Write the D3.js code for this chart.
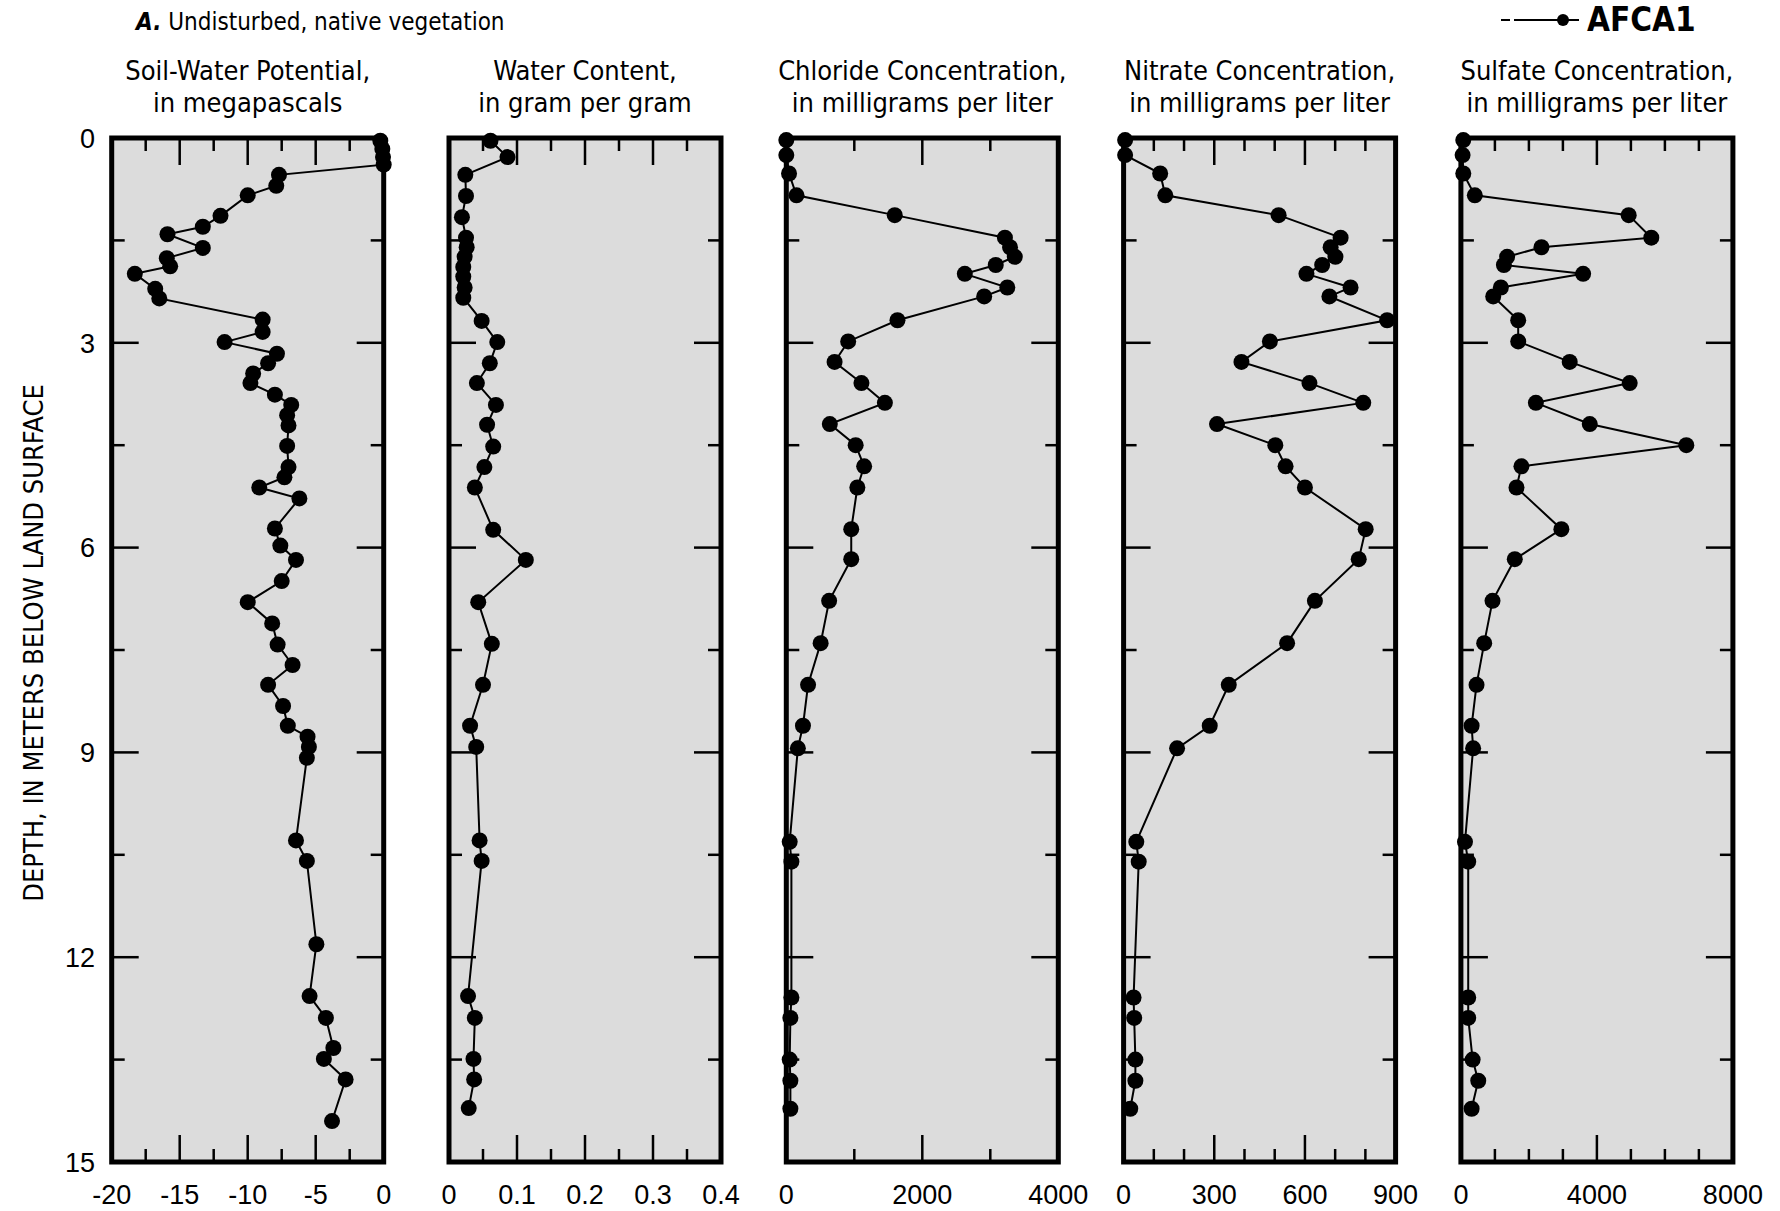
<!DOCTYPE html>
<html>
<head>
<meta charset="utf-8">
<script src="https://d3js.org/d3.v7.min.js"></script>
<style>
  body { margin: 0; background: #fff; }
  .cond { font-family: "Liberation Sans Narrow", "DejaVu Sans Condensed", "Arial Narrow", sans-serif; font-stretch: condensed; }
  .num { font-family: "Liberation Sans", Arial, sans-serif; }
</style>
</head>
<body>
<svg id="chart" width="1780" height="1211"></svg>
<script>
// ---- data ----
var depthTicks = [0, 3, 6, 9, 12, 15];

// soil-water potential, MPa
var swpDepth = [0.04, 0.16, 0.28, 0.39, 0.54, 0.70, 0.84, 1.14, 1.30, 1.41, 1.61, 1.76, 1.88, 1.99,
  2.21, 2.35, 2.66, 2.84, 2.99, 3.16, 3.30, 3.45, 3.59, 3.76, 3.91, 4.06, 4.21, 4.51, 4.82, 4.97,
  5.12, 5.28, 5.72, 5.97, 6.18, 6.49, 6.80, 7.11, 7.42, 7.72, 8.01, 8.32, 8.61, 8.77, 8.92, 9.08,
  10.29, 10.59, 11.81, 12.57, 12.89, 13.33, 13.49, 13.79, 14.40];
var swpValue = [-0.25, -0.1, -0.05, 0, -7.7, -7.9, -10.0, -12.0, -13.3, -15.9, -13.3, -15.95, -15.7, -18.3,
  -16.8, -16.5, -8.9, -8.9, -11.7, -7.85, -8.5, -9.6, -9.8, -8.0, -6.8, -7.1, -7.0, -7.1, -7.0, -7.3,
  -9.15, -6.2, -8.0, -7.6, -6.45, -7.5, -10.0, -8.2, -7.8, -6.7, -8.5, -7.4, -7.05, -5.6, -5.5, -5.65,
  -6.45, -5.65, -4.95, -5.45, -4.25, -3.7, -4.4, -2.8, -3.8];

// water content, g/g
var wcDepth = [0.04, 0.28, 0.54, 0.85, 1.16, 1.46, 1.60, 1.74, 1.89, 2.03, 2.19, 2.34, 2.68, 2.99,
  3.30, 3.59, 3.91, 4.20, 4.52, 4.82, 5.12, 5.74, 6.18, 6.80, 7.41, 8.01, 8.61, 8.92, 10.29, 10.59,
  12.57, 12.89, 13.49, 13.79, 14.21];
var wcValue = [0.061, 0.086, 0.024, 0.025, 0.019, 0.025, 0.026, 0.023, 0.021, 0.021, 0.023, 0.021, 0.048, 0.071,
  0.060, 0.041, 0.069, 0.056, 0.065, 0.052, 0.038, 0.065, 0.113, 0.043, 0.063, 0.050, 0.031, 0.040, 0.045, 0.048,
  0.028, 0.038, 0.036, 0.037, 0.029];

// pore-water chemistry, mg/L
var chemDepth = [0.03, 0.25, 0.52, 0.84, 1.13, 1.46, 1.60, 1.74, 1.86, 1.99, 2.19, 2.32, 2.67, 2.98,
  3.28, 3.59, 3.88, 4.19, 4.50, 4.81, 5.12, 5.73, 6.17, 6.78, 7.40, 8.01, 8.61, 8.94, 10.31, 10.60,
  12.59, 12.89, 13.50, 13.81, 14.22];
var chloride = [0, 0, 40, 150, 1595, 3215, 3290, 3360, 3080, 2625, 3250, 2910, 1635, 910,
  710, 1105, 1450, 640, 1020, 1145, 1045, 955, 955, 630, 505, 320, 245, 170, 50, 75,
  75, 60, 50, 60, 60];
var nitrate = [5, 5, 121, 138, 513, 718, 685, 701, 657, 605, 751, 681, 872, 484,
  390, 615, 793, 309, 502, 536, 600, 801, 778, 633, 541, 348, 285, 177, 42, 50,
  33, 35, 39, 39, 22];
var sulfate = [70, 50, 70, 410, 4935, 5600, 2370, 1360, 1265, 3595, 1175, 950, 1685, 1685,
  3200, 4965, 2205, 3790, 6630, 1780, 1635, 2955, 1585, 930, 685, 460, 315, 360, 120, 215,
  215, 215, 345, 510, 315];

var panels = [
  { title: ['Soil-Water Potential,', 'in megapascals'], domain: [-20, 0], minor: 2.5, major: 5,
    labels: [-20, -15, -10, -5, 0], depth: swpDepth, value: swpValue },
  { title: ['Water Content,', 'in gram per gram'], domain: [0, 0.4], minor: 0.05, major: 0.1,
    labels: [0, 0.1, 0.2, 0.3, 0.4], depth: wcDepth, value: wcValue },
  { title: ['Chloride Concentration,', 'in milligrams per liter'], domain: [0, 4000], minor: 1000, major: 2000,
    labels: [0, 2000, 4000], depth: chemDepth, value: chloride },
  { title: ['Nitrate Concentration,', 'in milligrams per liter'], domain: [0, 900], minor: 100, major: 300,
    labels: [0, 300, 600, 900], depth: chemDepth, value: nitrate },
  { title: ['Sulfate Concentration,', 'in milligrams per liter'], domain: [0, 8000], minor: 1000, major: 4000,
    labels: [0, 4000, 8000], depth: chemDepth, value: sulfate }
];

(function() {
  // ---- layout ----
  var svg = d3.select('#chart');
  var yTop = 138, yBottom = 1162;
  var firstLeft = 111.7, step = 337.3, pw = 272;
  var minorLen = 13, majorLen = 27;

  var y = d3.scaleLinear().domain([0, 15]).range([yTop, yBottom]);

  // header
  var head = svg.append('text').attr('class', 'cond')
    .attr('x', 136).attr('y', 30).style('font-size', '24px');
  head.append('tspan').attr('font-weight', 'bold').attr('font-style', 'italic').text('A.');
  head.append('tspan').text(' Undisturbed, native vegetation');

  // legend (short dash, small gap, then the line through the marker)
  var lg = svg.append('g');
  lg.append('line').attr('x1', 1501).attr('x2', 1510).attr('y1', 20).attr('y2', 20)
    .attr('stroke', '#000').attr('stroke-width', 2);
  lg.append('line').attr('x1', 1514).attr('x2', 1579).attr('y1', 20).attr('y2', 20)
    .attr('stroke', '#000').attr('stroke-width', 2);
  lg.append('circle').attr('cx', 1563).attr('cy', 20).attr('r', 6).attr('fill', '#000');
  lg.append('text').attr('class', 'cond').attr('x', 1587).attr('y', 31)
    .style('font-size', '33px').attr('font-weight', 'bold').text('AFCA1');

  // depth axis label
  svg.append('text').attr('class', 'cond')
    .attr('transform', 'translate(43,' + ((yTop + yBottom) / 2 - 7) + ') rotate(-90)')
    .attr('text-anchor', 'middle').style('font-size', '27px')
    .text('DEPTH, IN METERS BELOW LAND SURFACE');

  // depth tick labels
  svg.append('g').selectAll('text').data(depthTicks).join('text')
    .attr('class', 'num').attr('x', 95).attr('y', function(d) { return y(d); })
    .attr('dy', '0.36em').attr('text-anchor', 'end').style('font-size', '27px')
    .text(function(d) { return d; });

  var depthMinor = d3.range(0, 15.01, 1.5).filter(function(d) { return d > 0 && d < 15; });
  var isMajor = function(v, m) { return Math.abs(v / m - Math.round(v / m)) < 1e-6; };

  panels.forEach(function(p, i) {
    var left = firstLeft + i * step;
    var x = d3.scaleLinear().domain(p.domain).range([left, left + pw]);
    var g = svg.append('g');

    g.append('rect').attr('x', left).attr('y', yTop).attr('width', pw).attr('height', yBottom - yTop)
      .attr('fill', '#dcdcdc');

    var n = Math.round((p.domain[1] - p.domain[0]) / p.minor);
    var xt = d3.range(1, n).map(function(k) { return p.domain[0] + k * p.minor; });

    // top & bottom ticks
    g.selectAll('line.xt').data(xt).join('line').attr('class', 'xt')
      .attr('x1', function(d) { return x(d); }).attr('x2', function(d) { return x(d); })
      .attr('y1', yTop).attr('y2', function(d) { return yTop + (isMajor(d, p.major) ? majorLen : minorLen); })
      .attr('stroke', '#000').attr('stroke-width', 2.5);
    g.selectAll('line.xb').data(xt).join('line').attr('class', 'xb')
      .attr('x1', function(d) { return x(d); }).attr('x2', function(d) { return x(d); })
      .attr('y1', yBottom).attr('y2', function(d) { return yBottom - (isMajor(d, p.major) ? majorLen : minorLen); })
      .attr('stroke', '#000').attr('stroke-width', 2.5);

    // left & right ticks
    g.selectAll('line.yl').data(depthMinor).join('line').attr('class', 'yl')
      .attr('y1', function(d) { return y(d); }).attr('y2', function(d) { return y(d); })
      .attr('x1', left).attr('x2', function(d) { return left + (isMajor(d, 3) ? majorLen : minorLen); })
      .attr('stroke', '#000').attr('stroke-width', 2.5);
    g.selectAll('line.yr').data(depthMinor).join('line').attr('class', 'yr')
      .attr('y1', function(d) { return y(d); }).attr('y2', function(d) { return y(d); })
      .attr('x1', left + pw).attr('x2', function(d) { return left + pw - (isMajor(d, 3) ? majorLen : minorLen); })
      .attr('stroke', '#000').attr('stroke-width', 2.5);

    g.append('rect').attr('x', left).attr('y', yTop).attr('width', pw).attr('height', yBottom - yTop)
      .attr('fill', 'none').attr('stroke', '#000').attr('stroke-width', 5);

    // x tick labels
    g.selectAll('text.xl').data(p.labels).join('text').attr('class', 'num xl')
      .attr('x', function(d) { return x(d); }).attr('y', 1204)
      .attr('text-anchor', 'middle').style('font-size', '27px')
      .text(function(d) { return String(d); });

    // titles
    g.selectAll('text.tt').data(p.title).join('text').attr('class', 'cond tt')
      .attr('x', left + pw / 2).attr('y', function(d, k) { return 80 + k * 32; })
      .attr('text-anchor', 'middle').style('font-size', '27px')
      .text(function(d) { return d; });

    // profile
    var pts = p.depth.map(function(d, k) { return [p.value[k], d]; });
    var line = d3.line().x(function(d) { return x(d[0]); }).y(function(d) { return y(d[1]); });
    g.append('path').datum(pts).attr('d', line).attr('fill', 'none')
      .attr('stroke', '#000').attr('stroke-width', 2);
    g.selectAll('circle').data(pts).join('circle')
      .attr('cx', function(d) { return x(d[0]); }).attr('cy', function(d) { return y(d[1]); })
      .attr('r', 8).attr('fill', '#000');
  });
})();
</script>
</body>
</html>
